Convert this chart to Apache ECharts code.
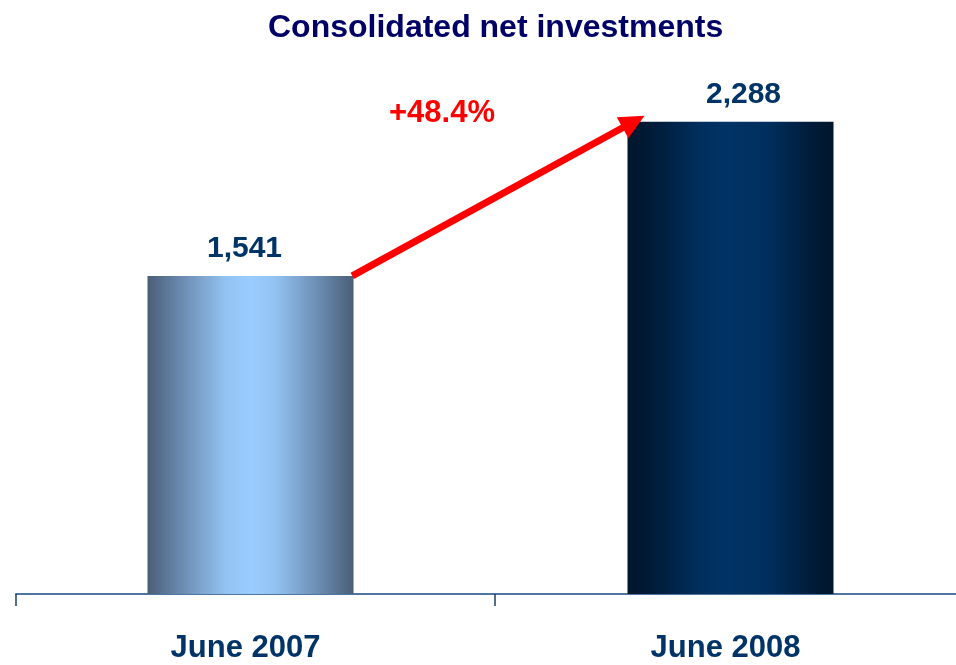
<!DOCTYPE html>
<html>
<head>
<meta charset="utf-8">
<style>
  html, body { margin: 0; padding: 0; background: #ffffff; }
  #chart { width: 956px; height: 665px; }
</style>
<script src="https://cdn.jsdelivr.net/npm/echarts@6/dist/echarts.min.js"></script>
</head>
<body>
<div id="chart"></div>
<script>
const categories = ['June 2007', 'June 2008'];
const netInvestments = [1541, 2288];
const growthLabel = '+48.4%';
const chartTitle = 'Consolidated net investments';

const FONT = '"Liberation Sans", Arial, Helvetica, sans-serif';

const barGradients = [
  new echarts.graphic.LinearGradient(0, 0, 1, 0, [
    { offset: 0, color: '#4a5e77' },
    { offset: 0.18, color: '#6d8fb5' },
    { offset: 0.38, color: '#93c3f2' },
    { offset: 0.5, color: '#99ccff' },
    { offset: 0.62, color: '#93c3f2' },
    { offset: 0.82, color: '#6d8fb5' },
    { offset: 1, color: '#4a5e77' }
  ]),
  new echarts.graphic.LinearGradient(0, 0, 1, 0, [
    { offset: 0, color: '#00162c' },
    { offset: 0.12, color: '#001b37' },
    { offset: 0.35, color: '#002f5e' },
    { offset: 0.5, color: '#003366' },
    { offset: 0.68, color: '#002f5e' },
    { offset: 0.9, color: '#001b37' },
    { offset: 1, color: '#00162c' }
  ])
];
// small horizontal nudges of the value labels, as in the original slide
const labelPads = [[0, 12, 0, 0], [0, 0, 0, 26]];

const chart = echarts.init(document.getElementById('chart'), null, { renderer: 'canvas' });

const option = {
  animation: false,
  backgroundColor: '#ffffff',
  title: {
    text: chartTitle,
    left: 263,
    top: 7,
    textStyle: { fontFamily: FONT, fontWeight: 'bold', fontSize: 32, color: '#000066' }
  },
  grid: [
    { left: 10.5, width: 960, top: 78, height: 516, containLabel: false, outerBoundsMode: 'none' },
    { left: 16, width: 958, top: 78, height: 516, containLabel: false, outerBoundsMode: 'none' }
  ],
  xAxis: [
    {
      type: 'category', gridIndex: 0, data: categories,
      axisLine: { show: false }, axisTick: { show: false },
      axisLabel: {
        margin: 39, fontFamily: FONT, fontWeight: 'bold', fontSize: 31, color: '#003366',
        padding: [0, 10, 0, 0]
      }
    },
    {
      type: 'category', gridIndex: 1, data: categories,
      axisLine: { show: true, lineStyle: { color: '#4f76a3', width: 2 } },
      axisTick: { show: true, length: 12, alignWithLabel: false, lineStyle: { color: '#1f3f66', width: 1.5 } },
      axisLabel: { show: false }
    },
    {
      type: 'value', gridIndex: 0, min: 0, max: 2, show: false,
      splitLine: { show: false }
    }
  ],
  yAxis: [
    { type: 'value', gridIndex: 0, min: 0, max: 2500, show: false, splitLine: { show: false } },
    { type: 'value', gridIndex: 1, min: 0, max: 2500, show: false, splitLine: { show: false } }
  ],
  series: [
    {
      type: 'bar',
      xAxisIndex: 0, yAxisIndex: 0,
      barWidth: 206,
      data: netInvestments.map((v, i) => ({
        value: v,
        itemStyle: { color: barGradients[i] },
        label: { padding: labelPads[i] }
      })),
      label: {
        show: true, position: 'top', distance: 12,
        formatter: (p) => p.value.toLocaleString('en-US'),
        fontFamily: FONT, fontWeight: 'bold', fontSize: 30, color: '#003366'
      },
      silent: true
    },
    {
      type: 'line',
      xAxisIndex: 2, yAxisIndex: 0,
      data: [],
      silent: true,
      markLine: {
        silent: true,
        symbol: ['none', 'triangle'],
        symbolSize: [24, 25],
        label: { show: false },
        lineStyle: { color: '#ff0000', width: 7, type: 'solid' },
        emphasis: { disabled: true },
        data: [[
          { coord: [0.712, netInvestments[0]] },
          { coord: [1.298, netInvestments[1]] }
        ]]
      }
    }
  ],
  graphic: [
    {
      type: 'text',
      left: 389,
      top: 98,
      silent: true,
      style: {
        text: growthLabel,
        fill: '#ff0000',
        font: 'bold 31px ' + FONT
      }
    }
  ]
};

chart.setOption(option);
</script>
</body>
</html>
